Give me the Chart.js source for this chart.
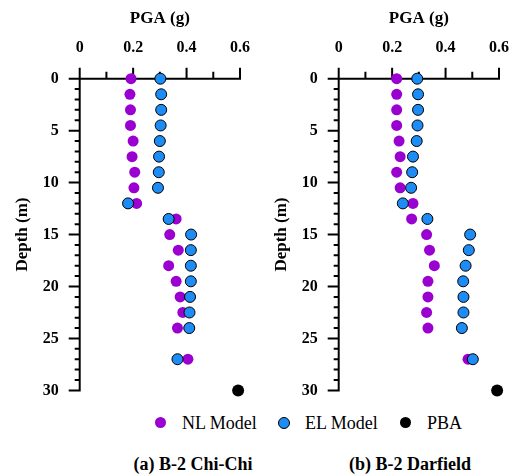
<!DOCTYPE html>
<html>
<head>
<meta charset="utf-8">
<script src="https://cdn.jsdelivr.net/npm/chart.js@4/dist/chart.umd.min.js"></script>
<style>
  body { margin: 0; background: #fff; width: 511px; height: 475px; overflow: hidden; position: relative;
         font-family: "Liberation Serif", "Times New Roman", serif; color: #000; }
  .panel { position: absolute; top: 0; width: 252px; height: 400px; }
  .leg { position: absolute; top: 412px; font-family: "Liberation Serif", serif; font-size: 18px; font-weight: normal; line-height: 22px; white-space: nowrap; }
  .dot { position: absolute; top: 417px; width: 11px; height: 11px; border-radius: 50%; box-sizing: border-box; }
  .cap { position: absolute; top: 453px; font-family: "Liberation Serif", serif; font-size: 18px; font-weight: bold; line-height: 22px; white-space: nowrap; transform: translateX(-50%); }
</style>
</head>
<body>
<canvas id="chichi" class="panel" width="252" height="400" style="left:0"></canvas>
<canvas id="darfield" class="panel" width="252" height="400" style="left:259px"></canvas>

<div class="dot" style="left:155px; background:#9a00d0;"></div>
<div class="leg" style="left:182px;">NL Model</div>
<div class="dot" style="left:278px; background:#1e8cf5; border:1px solid #000; width:12px; height:12px;"></div>
<div class="leg" style="left:305px;">EL Model</div>
<div class="dot" style="left:400px; background:#000;"></div>
<div class="leg" style="left:427px;">PBA</div>

<div class="cap" style="left:193px;">(a) B-2 Chi-Chi</div>
<div class="cap" style="left:410px;">(b) B-2 Darfield</div>

<script>
/* depths of the sampled points (m) */
var depths = [0, 1.5, 3, 4.5, 6, 7.5, 9, 10.5, 12, 13.5, 15, 16.5, 18, 19.5, 21, 22.5, 24, 27];

/* PGA (g) at each depth */
var chichiNL = [0.192, 0.188, 0.19, 0.19, 0.2, 0.196, 0.206, 0.203, 0.213, 0.361, 0.337, 0.369, 0.333, 0.361, 0.376, 0.386, 0.366, 0.405];
var chichiEL = [0.302, 0.305, 0.305, 0.303, 0.3, 0.297, 0.296, 0.293, 0.181, 0.333, 0.417, 0.416, 0.416, 0.416, 0.413, 0.411, 0.41, 0.366];
var darfieldNL = [0.217, 0.217, 0.217, 0.217, 0.226, 0.23, 0.217, 0.23, 0.278, 0.273, 0.329, 0.34, 0.358, 0.334, 0.334, 0.329, 0.334, 0.484];
var darfieldEL = [0.294, 0.297, 0.297, 0.295, 0.292, 0.278, 0.275, 0.271, 0.24, 0.332, 0.492, 0.487, 0.475, 0.466, 0.467, 0.467, 0.461, 0.502];

/* peak bedrock acceleration */
var pbaDepth = 30;
var chichiPBA = 0.593;
var darfieldPBA = 0.593;

/* axis ticks */
var xMajor = [0, 0.2, 0.4, 0.6];
var xMinor = [0.1, 0.3, 0.5];
var yMajor = [0, 5, 10, 15, 20, 25, 30];
var yMinor = [1, 2, 3, 4, 6, 7, 8, 9, 11, 12, 13, 14, 16, 17, 18, 19, 21, 22, 23, 24, 26, 27, 28, 29];

var FONT = "'Liberation Serif', 'Times New Roman', serif";
var NL_COLOR = "#9a00d0";
var EL_COLOR = "#1e8cf5";

function pts(xs, ys) {
  return xs.map(function (v, i) { return { x: v, y: ys[i] }; });
}

/* axis lines + major/minor tick marks drawn from the scales */
var axisTicks = {
  id: "axisTicks",
  beforeDatasetsDraw: function (chart) {
    var ctx = chart.ctx, xs = chart.scales.x, ys = chart.scales.y, a = chart.chartArea;
    ctx.save();
    ctx.strokeStyle = "#000";
    ctx.lineWidth = 2;
    ctx.beginPath();
    ctx.moveTo(a.left, a.top); ctx.lineTo(xs.getPixelForValue(0.6) + 1, a.top);
    ctx.moveTo(a.left, a.top - 1); ctx.lineTo(a.left, ys.getPixelForValue(30) + 1);
    xMajor.forEach(function (v) {
      var px = xs.getPixelForValue(v);
      ctx.moveTo(px, a.top); ctx.lineTo(px, a.top - 11);
    });
    xMinor.forEach(function (v) {
      var px = xs.getPixelForValue(v);
      ctx.moveTo(px, a.top); ctx.lineTo(px, a.top - 7);
    });
    yMajor.forEach(function (v) {
      var py = ys.getPixelForValue(v);
      ctx.moveTo(a.left, py); ctx.lineTo(a.left - 11, py);
    });
    yMinor.forEach(function (v) {
      var py = ys.getPixelForValue(v);
      ctx.moveTo(a.left, py); ctx.lineTo(a.left - 5, py);
    });
    ctx.stroke();
    ctx.restore();
  }
};

/* hidden tick marks only reserve room between labels and axis */
var hiddenGrid = { display: true, drawOnChartArea: false, drawTicks: true, tickLength: 21, tickColor: "rgba(0,0,0,0)" };

function makeChart(id, nl, el, pba) {
  return new Chart(document.getElementById(id), {
    type: "scatter",
    data: {
      datasets: [
        { label: "NL Model", data: pts(nl, depths), backgroundColor: NL_COLOR, borderWidth: 0, pointRadius: 5.5, order: 3, clip: false },
        { label: "EL Model", data: pts(el, depths), backgroundColor: EL_COLOR, borderColor: "#000", borderWidth: 1, pointRadius: 5.5, order: 2, clip: false },
        { label: "PBA", data: [{ x: pba, y: pbaDepth }], backgroundColor: "#000", borderWidth: 0, pointRadius: 6, order: 1, clip: false }
      ]
    },
    options: {
      responsive: false,
      animation: false,
      events: [],
      layout: { padding: { left: 0, top: 0, right: 12, bottom: 6.7 } },
      plugins: { legend: { display: false }, tooltip: { enabled: false } },
      scales: {
        x: {
          type: "linear", position: "top", min: 0, max: 0.6,
          afterFit: function (s) { s.height = 78.7; },
          grid: hiddenGrid,
          border: { display: false },
          ticks: { stepSize: 0.2, padding: 0, color: "#000", font: { family: FONT, size: 16, weight: "bold" } },
          title: { display: true, text: "PGA (g)", color: "#000", padding: { top: 8, bottom: 0 }, font: { family: FONT, size: 17, weight: "bold" } }
        },
        y: {
          type: "linear", reverse: true, min: 0, max: 30,
          afterFit: function (s) { s.width = 79.7; },
          grid: hiddenGrid,
          border: { display: false },
          ticks: { stepSize: 5, padding: 0, color: "#000", font: { family: FONT, size: 16, weight: "bold" } },
          title: { display: true, text: "Depth (m)", color: "#000", padding: { top: 12, bottom: 0 }, font: { family: FONT, size: 17, weight: "bold" } }
        }
      }
    },
    plugins: [axisTicks]
  });
}

makeChart("chichi", chichiNL, chichiEL, chichiPBA);
makeChart("darfield", darfieldNL, darfieldEL, darfieldPBA);
</script>
</body>
</html>
